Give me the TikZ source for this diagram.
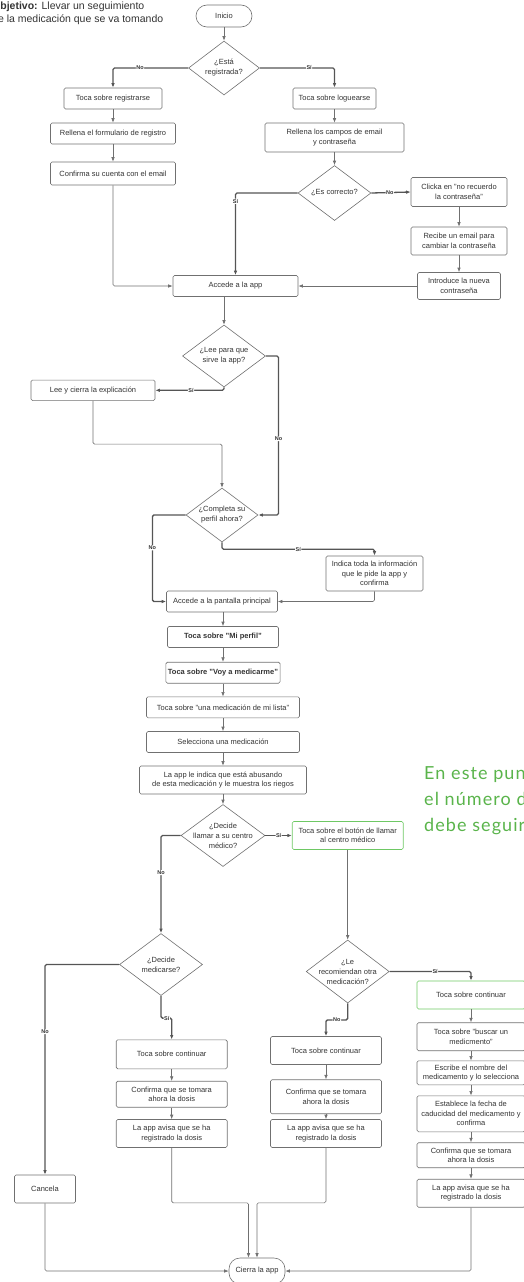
\documentclass[tikz,border=0pt]{standalone}
\usepackage{fontspec}
\setmainfont{Liberation Sans}
\newfontfamily\notefont[LetterSpace=6]{Lato}
\usetikzlibrary{shapes.geometric,arrows.meta}
\definecolor{textgray}{RGB}{51,51,51}
\definecolor{boxgray}{RGB}{112,112,112}
\definecolor{linegray}{RGB}{112,112,112}
\definecolor{branchgray}{RGB}{85,85,85}
\definecolor{boxgreen}{RGB}{110,200,100}
\definecolor{notegreen}{RGB}{90,180,75}
\begin{document}
\begin{tikzpicture}[x=1pt,y=-1pt]
        \tikzset{box size/.style 2 args={minimum width=#1pt, minimum height=#2pt}}
        \tikzset{process node/.style={rectangle, rounded corners=1.5pt, draw=boxgray, line width=0.6pt, text=textgray, font=\fontsize{7.5}{9.5}\selectfont, align=center, inner sep=2pt}}
        \tikzset{bold node/.style={process node, font=\fontsize{7.5}{9.5}\selectfont\bfseries}}
        \tikzset{green node/.style={process node, draw=boxgreen}}
        \tikzset{start node/.style={process node, rounded corners=11pt}}
        \tikzset{decision node/.style={diamond, draw=boxgray, line width=0.6pt, inner sep=0pt}}
        \tikzset{decision text/.style={text=textgray, font=\fontsize{7.5}{10}\selectfont, align=center}}
        \tikzset{flow/.style={draw=linegray, line width=0.6pt, rounded corners=1.5pt, -{Latex[length=4.5pt,width=3.5pt]}}}
        \tikzset{branch/.style={flow, draw=branchgray, line width=1.3pt}}
        \tikzset{answer/.style={fill=white, inner sep=0.5pt, text=textgray, font=\fontsize{5.5}{6}\selectfont\bfseries}}
        \useasboundingbox (0,0) rectangle (524,1282);
        \clip (0,0) rectangle (524,1282);
        \node[anchor=north west, align=left, inner sep=0pt, text=textgray, font=\fontsize{10.5}{13}\selectfont] (goal) at (-8,1.8) {\textbf{Objetivo:} Llevar un seguimiento\\de la medicación que se va tomando};
        \node[anchor=north west, align=left, inner sep=0pt, text=notegreen, font=\notefont\fontsize{18}{26.3}\selectfont] (note) at (424,766) {En este punto\\el número de\\debe seguir};
        \node[start node, box size={56}{22}] (start) at (224,16) {Inicio};
        \node[decision node, box size={71}{54}, label={[decision text]center:{¿Está\\registrada?}}] (registered) at (224,68) {};
        \node[process node, box size={98}{21}] (signup) at (113,98.5) {Toca sobre registrarse};
        \node[process node, box size={125}{21}] (form) at (113,133.5) {Rellena el formulario de registro};
        \node[process node, box size={125}{23}] (confirm) at (113,173.5) {Confirma su cuenta con el email};
        \node[process node, box size={83}{21}] (login) at (334.5,98.5) {Toca sobre loguearse};
        \node[process node, box size={139}{29}] (fields) at (334.5,137.5) {Rellena los campos de email\\y contraseña};
        \node[decision node, box size={73}{55}, label={[decision text]center:{¿Es correcto?}}] (correct) at (334.5,193) {};
        \node[process node, box size={96}{29}] (forgot) at (459,192) {Clicka en "no recuerdo\\la contraseña"};
        \node[process node, box size={96}{28}] (mail) at (459,241) {Recibe un email para\\cambiar la contraseña};
        \node[process node, box size={83}{27}] (newpass) at (459,286) {Introduce la nueva\\contraseña};
        \node[process node, box size={125}{21}] (access) at (235.5,286) {Accede a la app};
        \node[decision node, box size={83}{62}, label={[decision text]center:{¿Lee para que\\sirve la app?}}] (reads) at (224,356) {};
        \node[process node, box size={124}{20.5}] (explain) at (93,390.3) {Lee y cierra la explicación};
        \node[decision node, box size={72}{54}, label={[decision text]center:{¿Completa su\\perfil ahora?}}] (profile) at (222,515) {};
        \node[process node, box size={97}{35}] (info) at (374.5,573.5) {Indica toda la información\\que le pide la app y\\confirma};
        \node[process node, box size={111}{21}] (home) at (222,601.5) {Accede a la pantalla principal};
        \node[bold node, box size={111}{21}] (myprofile) at (223,637) {Toca sobre "Mi perfil"};
        \node[bold node, box size={111}{21}] (medicate) at (223,672.7) {Toca sobre "Voy a medicarme"};
        \node[process node, box size={153}{21}] (list) at (223,707.3) {Toca sobre "una medicación de mi lista"};
        \node[process node, box size={153}{21}] (select) at (223,742) {Selecciona una medicación};
        \node[process node, box size={167}{28}] (abuse) at (223,780) {La app le indica que está abusando\\de esta medicación y le muestra los riegos};
        \node[decision node, box size={84}{62}, label={[decision text]center:{¿Decide\\llamar a su centro\\médico?}}] (call) at (223,835.5) {};
        \node[green node, box size={111}{28}] (button) at (347.7,835.5) {Toca sobre el botón de llamar\\al centro médico};
        \node[decision node, box size={83}{62}, label={[decision text]center:{¿Decide\\medicarse?}}] (takes) at (161,964.5) {};
        \node[decision node, box size={83}{63}, label={[decision text]center:{¿Le\\recomiendan otra\\medicación?}}] (other) at (347.7,971.5) {};
        \node[process node, box size={111}{29}] (continueA) at (171.7,1054.3) {Toca sobre continuar};
        \node[process node, box size={111}{26}] (doseA) at (171.7,1094.2) {Confirma que se tomara\\ahora la dosis};
        \node[process node, box size={111}{28}] (savedA) at (171.7,1133.5) {La app avisa que se ha\\registrado la dosis};
        \node[process node, box size={61}{28}] (cancel) at (45,1189) {Cancela};
        \node[process node, box size={111}{28}] (continueB) at (326,1050.5) {Toca sobre continuar};
        \node[process node, box size={111}{34}] (doseB) at (326,1096.7) {Confirma que se tomara\\ahora la dosis};
        \node[process node, box size={111}{28}] (savedB) at (326,1133.5) {La app avisa que se ha\\registrado la dosis};
        \node[green node, box size={108}{28}] (continueC) at (471,995) {Toca sobre continuar};
        \node[process node, box size={108}{28}] (search) at (471,1036.7) {Toca sobre "buscar un\\medicmento"};
        \node[process node, box size={108}{24}] (name) at (471,1072.8) {Escribe el nombre del\\medicamento y lo selecciona};
        \node[process node, box size={108}{36}] (expiry) at (471,1113.8) {Establece la fecha de\\caducidad del medicamento y\\confirma};
        \node[process node, box size={108}{25}] (doseC) at (471,1155.2) {Confirma que se tomara\\ahora la dosis};
        \node[process node, box size={108}{28}] (savedC) at (471,1193.2) {La app avisa que se ha\\registrado la dosis};
        \node[start node, box size={56}{26}] (close) at (257,1271) {Cierra la app};
        \coordinate (closeA) at ([xshift=-8.5pt]close.north);
        \draw[flow] (start) -- (registered);
        \draw[branch] (registered.west) -| node[answer, pos=0.32] {No} (signup.north);
        \draw[branch] (registered.east) -| node[answer, pos=0.33] {Sí} (login.north);
        \draw[flow] (signup) -- (form);
        \draw[flow] (form) -- (confirm);
        \draw[flow] (login) -- (fields);
        \draw[flow] (fields) -- (correct);
        \draw[branch] (correct.east) -- node[answer, pos=0.47] {No} (forgot.west);
        \draw[branch] (correct.west) -| node[answer, pos=0.55] {Sí} (access.north);
        \draw[flow] (forgot) -- (mail);
        \draw[flow] (mail) -- (newpass);
        \draw[flow] (newpass.west) -- (access.east);
        \draw[flow] (confirm.south) |- (access.west);
        \draw[flow] (reads.north |- access.south) -- (reads.north);
        \draw[branch] (reads.east) -- ++(12.7,0) |- node[answer, pos=0.26] {No} (profile.east);
        \draw[branch] (reads.south) |- node[answer, pos=0.74] {Sí} (explain.east);
        \draw[flow] (explain.south) -- ++(0,43.3) -| (profile.north);
        \draw[branch] (profile.west) -- ++(-33.3,0) |- node[answer, pos=0.19] {No} (home.west);
        \draw[branch] (profile.south) -- ++(0,7) -| node[answer, pos=0.25] {Sí} (info.north);
        \draw[flow] (info.south) |- (home.east);
        \draw[flow] (home.south -| myprofile.north) -- (myprofile.north);
        \draw[flow] (myprofile) -- (medicate);
        \draw[flow] (medicate) -- (list);
        \draw[flow] (list) -- (select);
        \draw[flow] (select) -- (abuse);
        \draw[flow] (abuse) -- (call);
        \draw[branch] (call.east) -- node[answer, pos=0.5] {Sí} (button.west);
        \draw[branch] (call.west) -| node[answer, pos=0.69] {No} (takes.north);
        \draw[flow] (button) -- (other);
        \draw[branch] (takes.west) -| node[answer, pos=0.66] {No} (cancel.north);
        \draw[branch] (takes.south) -- ++(0,22.3) -| node[answer, pos=0.27] {Sí} (continueA.north);
        \draw[branch] (other.east) -| node[answer, pos=0.28] {Sí} (continueC.north);
        \draw[branch] (other.south) -- ++(0,16.6) -| node[answer, pos=0.25] {No} (continueB.north);
        \draw[flow] (continueA) -- (doseA);
        \draw[flow] (doseA) -- (savedA);
        \draw[flow] (continueB) -- (doseB);
        \draw[flow] (doseB) -- (savedB);
        \draw[flow] (continueC) -- (search);
        \draw[flow] (search) -- (name);
        \draw[flow] (name) -- (expiry);
        \draw[flow] (expiry) -- (doseC);
        \draw[flow] (doseC) -- (savedC);
        \draw[flow] (savedA.south) -- ++(0,55) -| (closeA);
        \draw[flow] (savedB.south) -- ++(0,55) -| (close.north);
        \draw[flow] (cancel.south) |- (close.west);
        \draw[flow] (savedC.south) |- (close.east);
      \end{tikzpicture}
\end{document}
